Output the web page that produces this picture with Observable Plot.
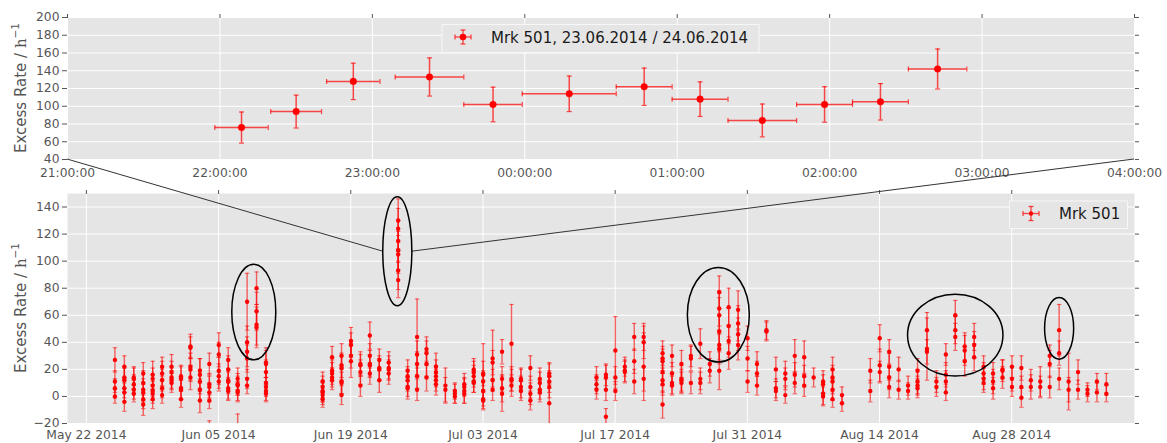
<!DOCTYPE html>
<html>
<head>
<meta charset="utf-8">
<script src="https://cdn.jsdelivr.net/npm/d3@7"></script>
<script src="https://cdn.jsdelivr.net/npm/@observablehq/plot@0.6"></script>
<style>
html,body{margin:0;padding:0;background:#fff;overflow:hidden;}
#wrap{position:relative;width:1167px;height:443px;overflow:hidden;font-family:"DejaVu Sans",sans-serif;}
#wrap svg{position:absolute;left:0;}
</style>
</head>
<body>
<div id="wrap"></div>
<script>
// ---------- Top panel: flare night 23.06.2014 / 24.06.2014 ----------
const flareStart = ["21:58","22:20","22:42","23:09","23:36","23:59","00:36","00:58","01:20","01:47","02:09","02:31"];
const flareEnd   = ["22:19","22:40","23:03","23:36","23:59","00:36","00:58","01:20","01:47","02:09","02:31","02:54"];
const flareRate  = [76, 94, 128, 133, 102, 114, 122, 108, 84, 102, 105, 142];
const flareErr   = [17.5, 18.5, 20.5, 21.5, 19.5, 20, 21, 19.5, 18.5, 20, 20.5, 22.5];
const hourLabels = ["21:00","22:00","23:00","00:00","01:00","02:00","03:00","04:00"];
const rateTicksTop = [40, 60, 80, 100, 120, 140, 160, 180, 200];

// ---------- Bottom panel: nightly light curve ----------
const nightDate = [
"05-25","05-26","05-27","05-28","05-29","05-30","05-31","06-01","06-02","06-03","06-04","06-05","06-06","06-07","06-08","06-09","06-10",
"06-16","06-17","06-18","06-19","06-20","06-21","06-22","06-23","06-24","06-25","06-26","06-27","06-28","06-29","06-30","07-01",
"07-02","07-03","07-04","07-05","07-06","07-07","07-08","07-09","07-10",
"07-15","07-16","07-17","07-18","07-19","07-20",
"07-22","07-23","07-24","07-25","07-26","07-27","07-28","07-29","07-30","07-31","08-01","08-02","08-03","08-04","08-05","08-06","08-07","08-08","08-09","08-10",
"08-13","08-14","08-15","08-16","08-17","08-18","08-19","08-20","08-21","08-22","08-23","08-24","08-25","08-26","08-27","08-28","08-29","08-30","08-31","09-01","09-02","09-03","09-04","09-05","09-06","09-07"
];
const nightRate = [
[27,11,6,0],[22,14,12,6,3,-4],[14,13,9,5,2],[17,10,5,3,-2,-6],[16,13,8,4,2,-2],[22,17,12,6,1],[22,18,14,12,10],[15,13,6,5,-2],
[37,36,22,20,14],[19,16,11,5,-3],[24,9,7,3,-3,-27],[38,31,19,15,11],[27,20,12,11,6,4],[13,9,8,4,3,-23],[70,40,33,28,13,8],[80,63,53,51],[25,24,18,10,7,4,2],
[11,7,4,3,1,-2],[29,19,17,14,12],[30,23,21,11,10,1],[41,38,30,26],[24,23,18,8],[45,30,24,23,17],[27,21,20,12],[25,21,20,17],
[130,124,115,108,105,93,86],[19,15,12,7,6],[44,31,24,15,5],[35,32,24,14],[22,18,15,12,9],[8,5],[4,2,0],[9,7,4,2],
[20,18,15,11,10],[17,16,11,4,-2,-3],[28,25,12,5],[33,13,6,2],[39,13,12,8],[13,12,7,4],[21,7,2,-3],[13,10,5,3],[17,15,11,7,-5],
[14,9,5],[16,14,5,-15],[34,14,4],[22,19,18],[44,26,11],[44,40,22,13],
[32,28,26,18,12,9,-6],[30,17,10,8],[24,13,12,10],[30,28,10],[39,13,10],[24,19],[77,65,60,48,38,35,19],[66,52,41,32],[64,54,46,38],[43,28,11],
[24,17,8],[49,48],[20,6,4],[17,13,1],[30,16,10],[29,15,8],[14],[11,9,2,0],[20,14,11,5,-2],[1,-5],
[19,4],[43,23,18],[33,22,14,7],[20,5],[8,4],[19,11,8,6],[49,35,33],[11,7],[31,16,11,3],[60,49,44],[37,34,26],[44,38,29],
[22,17,13,10],[17,11,6],[20,19,14],[22,13,7],[21,7,-1],[12,7],[11,7],[30,24,7],[49,32,13],[11,5],[18,5],[5,2],[11,3],[9,2]
];
const nightErr = [
[9,8,7,5],[8,8,9,7,7,7],[8,8,7,7,6],[8,9,8,7,7,8],[10,8,8,7,7,7],[7,9,8,7,6],[9,8,8,7,7],[8,9,8,7,6],
[9,8,10,9,9],[9,12,9,8,9],[8,8,8,7,6,9],[9,9,10,9,7],[9,10,8,9,8,7],[8,8,7,7,7,10],[21,12,11,10,7,6],[12,14,15,15],[11,10,9,8,7,7,6],
[7,8,8,7,7,6],[8,8,8,7,7],[9,9,9,9,8,7],[10,9,9,12],[9,8,9,8],[10,9,10,8,8],[8,9,8,9],[8,9,7,8],
[16,15,15,14,14,14,13],[8,7,8,7,8],[28,10,9,9,8],[9,9,9,10],[10,9,8,8,8],[13,9],[6,7,5],[8,7,9,7],
[8,8,8,8,7],[9,23,8,8,7,7],[21,9,8,8],[9,9,10,13],[29,9,8,8],[8,8,8,7],[9,8,8,7],[8,8,7,7],[8,9,8,8,15],
[8,7,7],[8,9,8,6],[25,8,7],[7,8,8],[10,9,9],[10,12,25,9],
[9,9,9,10,9,8,10],[8,8,8,7],[10,10,8,8],[8,9,8],[11,8,8],[9,9],[12,13,13,12,11,11,14],[14,13,12,12],[14,13,12,11],[9,9,8],
[9,9,7],[7,7],[9,7,7],[9,8,6],[12,9,8],[12,8,8],[7],[8,7,8,7],[9,9,9,8,6],[6,6],
[9,8],[10,12,8],[9,10,9,8],[9,7],[7,6],[9,9,7,7],[13,23,9],[8,7],[8,9,8,6],[11,10,10],[10,11,11],[10,10,10],
[8,8,8,7],[8,9,8],[7,8,8],[8,9,7],[9,8,7],[8,9],[11,8],[8,10,8],[19,9,8],[21,9],[9,7],[5,6],[6,7],[8,6]
];
const dateTicks = ["2014-05-22","2014-06-05","2014-06-19","2014-07-03","2014-07-17","2014-07-31","2014-08-14","2014-08-28"];
const rateTicksBottom = [-20, 0, 20, 40, 60, 80, 100, 120, 140];

// highlighted flares (ellipses): centre time, half width (days), centre rate, half height (rate units)
const ellipseCenter = ["2014-06-08T18:45Z","2014-06-23T23:30Z","2014-07-27T23:30Z","2014-08-22T01:40Z","2014-09-02T01:40Z"];
const ellipseHalfDays = [2.33, 1.54, 3.28, 5.05, 1.54];
const ellipseMid = [62, 107, 60, 45, 50];
const ellipseHalfRate = [35.3, 40.3, 35, 30.2, 22.8];
const zoomEllipse = 1; // the zoomed-in night

// ---------- build tables ----------
function clock(s) {
  const [h, m] = s.split(":").map(Number);
  return new Date(Date.UTC(2014, 5, h >= 12 ? 23 : 24, h, m));
}
const flare = flareStart.map((s, i) => {
  const t0 = clock(s), t1 = clock(flareEnd[i]);
  return {t0, t1, t: new Date((+t0 + +t1) / 2), rate: flareRate[i], err: flareErr[i]};
});
const hourTicks = hourLabels.map(clock);
const T0 = hourTicks[0], T1 = hourTicks[hourTicks.length - 1];

const pts = [];
nightDate.forEach((d, i) => {
  const t = new Date("2014-" + d + "T00:30:00Z");
  nightRate[i].forEach((r, j) => pts.push({t, rate: r, err: nightErr[i][j]}));
});
const dateTickDates = dateTicks.map(s => new Date(s + "T00:00:00Z"));

const capH = {draw(ctx, size) { const r = Math.sqrt(size / Math.PI); ctx.moveTo(-r, 0); ctx.lineTo(r, 0); }};
const capV = {draw(ctx, size) { const r = Math.sqrt(size / Math.PI); ctx.moveTo(0, -r); ctx.lineTo(0, r); }};

const baseStyle = {background: "transparent", fontFamily: "DejaVu Sans, sans-serif", fontSize: "12.3px", color: "#555", overflow: "visible"};

// ---------- top plot ----------
const topPlot = Plot.plot({
  width: 1167, height: 185,
  marginLeft: 67, marginRight: 33, marginTop: 17, marginBottom: 26,
  style: baseStyle,
  x: {type: "utc", domain: [T0, T1], label: null},
  y: {domain: [40, 200], label: null},
  marks: [
    Plot.frame({fill: "#e5e5e5", stroke: "none"}),
    Plot.gridX({ticks: hourTicks, stroke: "#fff", strokeOpacity: 1, strokeWidth: 1}),
    Plot.gridY({ticks: rateTicksTop, stroke: "#fff", strokeOpacity: 1, strokeWidth: 1}),
    Plot.axisY({ticks: rateTicksTop, tickSize: 5, tickPadding: 3, label: null}),
    Plot.axisY({anchor: "right", ticks: rateTicksTop, tickSize: 4, tickFormat: () => "", label: null}),
    Plot.axisX({ticks: hourTicks, tickSize: 0, tickPadding: 9, tickFormat: d3.utcFormat("%H:%M:%S"), label: null}),
    Plot.axisX({anchor: "top", ticks: hourTicks, tickSize: 4, tickFormat: () => "", label: null}),
    Plot.ruleY(flare, {x1: "t0", x2: "t1", y: "rate", stroke: "red", strokeOpacity: 0.7, strokeWidth: 1.5}),
    Plot.ruleX(flare, {x: "t", y1: d => d.rate - d.err, y2: d => d.rate + d.err, stroke: "red", strokeOpacity: 0.7, strokeWidth: 1.5}),
    Plot.dot(flare, {x: "t0", y: "rate", symbol: capV, r: 2.5, fill: "none", stroke: "red", strokeOpacity: 0.7, strokeWidth: 1.2}),
    Plot.dot(flare, {x: "t1", y: "rate", symbol: capV, r: 2.5, fill: "none", stroke: "red", strokeOpacity: 0.7, strokeWidth: 1.2}),
    Plot.dot(flare, {x: "t", y: d => d.rate - d.err, symbol: capH, r: 2.5, fill: "none", stroke: "red", strokeOpacity: 0.7, strokeWidth: 1.2}),
    Plot.dot(flare, {x: "t", y: d => d.rate + d.err, symbol: capH, r: 2.5, fill: "none", stroke: "red", strokeOpacity: 0.7, strokeWidth: 1.2}),
    Plot.dot(flare, {x: "t", y: "rate", r: 3.3, fill: "red", stroke: "red", strokeWidth: 0.5})
  ]
});

// ---------- bottom plot ----------
const bottomPlot = Plot.plot({
  width: 1167, height: 258,
  marginLeft: 67, marginRight: 33, marginTop: 8, marginBottom: 20,
  style: baseStyle,
  x: {type: "utc", domain: [new Date("2014-05-20T00:00:00Z"), new Date("2014-09-10T00:00:00Z")], label: null},
  y: {domain: [-20, 150], label: null},
  marks: [
    Plot.frame({fill: "#e5e5e5", stroke: "none"}),
    Plot.gridX({ticks: dateTickDates, stroke: "#fff", strokeOpacity: 1, strokeWidth: 1}),
    Plot.gridY({ticks: rateTicksBottom, stroke: "#fff", strokeOpacity: 1, strokeWidth: 1}),
    Plot.axisY({ticks: rateTicksBottom, tickSize: 5, tickPadding: 3, label: null}),
    Plot.axisY({anchor: "right", ticks: rateTicksBottom, tickSize: 4, tickFormat: () => "", label: null}),
    Plot.axisX({ticks: dateTickDates, tickSize: 0, tickPadding: 7, tickFormat: d3.utcFormat("%b %d %Y"), label: null}),
    Plot.axisX({anchor: "top", ticks: dateTickDates, tickSize: 4, tickFormat: () => "", label: null}),
    Plot.ruleX(pts, {x: "t", y1: d => d.rate - d.err, y2: d => d.rate + d.err, stroke: "red", strokeOpacity: 0.6, strokeWidth: 1.4, clip: true}),
    Plot.dot(pts, {x: "t", y: d => d.rate - d.err, symbol: capH, r: 2.2, fill: "none", stroke: "red", strokeOpacity: 0.55, strokeWidth: 1.1, clip: true}),
    Plot.dot(pts, {x: "t", y: d => d.rate + d.err, symbol: capH, r: 2.2, fill: "none", stroke: "red", strokeOpacity: 0.55, strokeWidth: 1.1, clip: true}),
    Plot.dot(pts, {x: "t", y: "rate", r: 2.2, fill: "red", clip: true})
  ]
});

const wrap = document.getElementById("wrap");
topPlot.style.top = "0px";
bottomPlot.style.top = "185px";
wrap.appendChild(topPlot);
wrap.appendChild(bottomPlot);

// ---------- overlay: labels, legends, zoom connectors, ellipses ----------
const BOT = 185;
const tx = topPlot.scale("x"), ty = topPlot.scale("y");
const bx = bottomPlot.scale("x"), by = bottomPlot.scale("y");
const DAY = 864e5;

const svg = d3.select(wrap).append("svg")
  .attr("width", 1167).attr("height", 443)
  .style("top", "0px").style("pointer-events", "none")
  .attr("font-family", "DejaVu Sans, sans-serif");

function yLabel(cy) {
  const t = svg.append("text")
    .attr("transform", `translate(21,${cy}) rotate(-90)`)
    .attr("text-anchor", "middle").attr("dominant-baseline", "central")
    .attr("font-size", 15).attr("fill", "#555");
  t.append("tspan").text("Excess Rate / ");
  t.append("tspan").attr("font-family", "DejaVu Serif, serif").text("h");
  t.append("tspan").attr("font-size", 10.5).attr("dy", -6).text("\u22121");
}
yLabel((ty.apply(40) + ty.apply(200)) / 2);
yLabel(BOT + (by.apply(-20) + by.apply(150)) / 2);

// connectors from the top panel's lower corners to the zoomed night
const ze = zoomEllipse;
const zc = new Date(ellipseCenter[ze]);
const zl = bx.apply(new Date(+zc - ellipseHalfDays[ze] * DAY));
const zr = bx.apply(new Date(+zc + ellipseHalfDays[ze] * DAY));
const zy = BOT + by.apply(ellipseMid[ze]);
svg.append("line").attr("x1", tx.apply(T0)).attr("y1", ty.apply(40)).attr("x2", zl).attr("y2", zy)
  .attr("stroke", "#333").attr("stroke-width", 1);
svg.append("line").attr("x1", tx.apply(T1)).attr("y1", ty.apply(40)).attr("x2", zr).attr("y2", zy)
  .attr("stroke", "#333").attr("stroke-width", 1);

// ellipses
ellipseCenter.forEach((c, i) => {
  const cd = new Date(c);
  const cx = bx.apply(cd);
  const rx = bx.apply(new Date(+cd + ellipseHalfDays[i] * DAY)) - cx;
  const cy = BOT + by.apply(ellipseMid[i]);
  const ry = Math.abs(by.apply(ellipseMid[i] + ellipseHalfRate[i]) - by.apply(ellipseMid[i]));
  svg.append("ellipse").attr("cx", cx).attr("cy", cy).attr("rx", rx).attr("ry", ry)
    .attr("fill", "none").attr("stroke", "#000").attr("stroke-width", 1.5);
});

// legends
function legend(x, y, w, h, sx, sy, r, label, tx0) {
  const g = svg.append("g");
  g.append("rect").attr("x", x).attr("y", y).attr("width", w).attr("height", h)
    .attr("fill", "#e5e5e5").attr("stroke", "#f7f7f7").attr("stroke-width", 1);
  const s = g.append("g").attr("stroke", "red").attr("stroke-opacity", 0.7).attr("stroke-width", 1.3);
  s.append("line").attr("x1", sx - 8).attr("x2", sx + 8).attr("y1", sy).attr("y2", sy);
  s.append("line").attr("x1", sx).attr("x2", sx).attr("y1", sy - 7).attr("y2", sy + 7);
  s.append("line").attr("x1", sx - 8).attr("x2", sx - 8).attr("y1", sy - 2.5).attr("y2", sy + 2.5);
  s.append("line").attr("x1", sx + 8).attr("x2", sx + 8).attr("y1", sy - 2.5).attr("y2", sy + 2.5);
  s.append("line").attr("x1", sx - 2.5).attr("x2", sx + 2.5).attr("y1", sy - 7).attr("y2", sy - 7);
  s.append("line").attr("x1", sx - 2.5).attr("x2", sx + 2.5).attr("y1", sy + 7).attr("y2", sy + 7);
  g.append("circle").attr("cx", sx).attr("cy", sy).attr("r", r).attr("fill", "red");
  g.append("text").attr("x", tx0).attr("y", sy + 0.5).attr("dominant-baseline", "central")
    .attr("font-size", 15).attr("fill", "#1a1a1a").text(label);
}
legend(442, 24.5, 317, 28, 463, 37, 3.3, "Mrk 501, 23.06.2014 / 24.06.2014", 491);
legend(1009.5, 201, 118, 27.5, 1031, 213.5, 2.2, "Mrk 501", 1059);
</script>
</body>
</html>
